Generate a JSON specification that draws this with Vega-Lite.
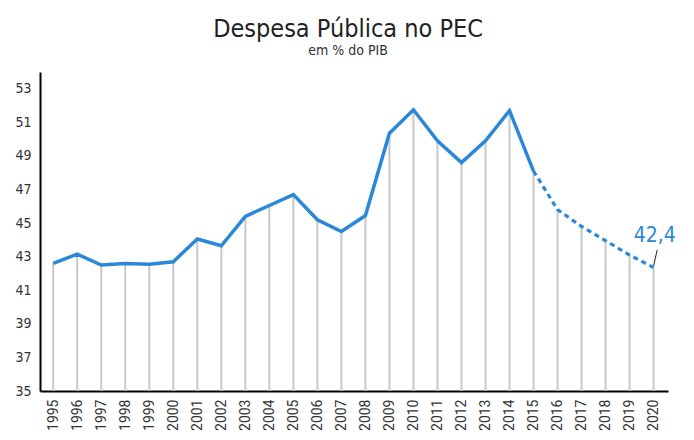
{
  "$schema": "https://vega.github.io/schema/vega-lite/v6.json",
  "width": 628,
  "height": 319,
  "autosize": {"type": "none"},
  "padding": {"left": 40, "top": 72, "right": 26, "bottom": 49},
  "background": "white",
  "title": {
    "text": "Despesa Pública no PEC",
    "subtitle": "em % do PIB",
    "anchor": "middle",
    "dx": -6,
    "offset": 14,
    "font": "DejaVu Sans Condensed, Roboto",
    "fontSize": 25,
    "fontWeight": "normal",
    "color": "#222222",
    "subtitleFont": "DejaVu Sans Condensed, Roboto",
    "subtitleFontSize": 14,
    "subtitleColor": "#333333",
    "subtitlePadding": 2
  },
  "config": {"view": {"stroke": null}, "axis": {"labelOverlap": false}},
  "datasets": {
    "main": [
      {"ano": 1995, "valor": 42.6, "tipo": "real"},
      {"ano": 1996, "valor": 43.15, "tipo": "real"},
      {"ano": 1997, "valor": 42.5, "tipo": "real"},
      {"ano": 1998, "valor": 42.6, "tipo": "real"},
      {"ano": 1999, "valor": 42.55, "tipo": "real"},
      {"ano": 2000, "valor": 42.7, "tipo": "real"},
      {"ano": 2001, "valor": 44.05, "tipo": "real"},
      {"ano": 2002, "valor": 43.65, "tipo": "real"},
      {"ano": 2003, "valor": 45.4, "tipo": "real"},
      {"ano": 2004, "valor": 46.05, "tipo": "real"},
      {"ano": 2005, "valor": 46.7, "tipo": "real"},
      {"ano": 2006, "valor": 45.2, "tipo": "real"},
      {"ano": 2007, "valor": 44.5, "tipo": "real"},
      {"ano": 2008, "valor": 45.45, "tipo": "real"},
      {"ano": 2009, "valor": 50.35, "tipo": "real"},
      {"ano": 2010, "valor": 51.75, "tipo": "real"},
      {"ano": 2011, "valor": 49.9, "tipo": "real"},
      {"ano": 2012, "valor": 48.6, "tipo": "real"},
      {"ano": 2013, "valor": 49.9, "tipo": "real"},
      {"ano": 2014, "valor": 51.7, "tipo": "real"},
      {"ano": 2015, "valor": 48.1, "tipo": "real"},
      {"ano": 2015, "valor": 48.1, "tipo": "prev"},
      {"ano": 2016, "valor": 45.8, "tipo": "prev"},
      {"ano": 2017, "valor": 44.8, "tipo": "prev"},
      {"ano": 2018, "valor": 43.95, "tipo": "prev"},
      {"ano": 2019, "valor": 43.1, "tipo": "prev"},
      {"ano": 2020, "valor": 42.35, "tipo": "prev"}
    ],
    "leader": [
      {"x": 2020.0, "y": 42.45, "x2": 2020.15, "y2": 43.4}
    ],
    "label": [
      {"x": 2020.05, "y": 43.85, "texto": "42,4"}
    ]
  },
  "layer": [
    {
      "data": {"name": "main"},
      "transform": [{"filter": "!(datum.tipo == 'prev' && datum.ano == 2015)"}],
      "mark": {"type": "rule", "color": "#c8c8c8", "strokeWidth": 2},
      "encoding": {
        "x": {
          "field": "ano", "type": "quantitative",
          "scale": {"domain": [1994.45, 2020.6], "nice": false, "zero": false},
          "axis": {
            "values": [1995,1996,1997,1998,1999,2000,2001,2002,2003,2004,2005,2006,2007,2008,2009,2010,2011,2012,2013,2014,2015,2016,2017,2018,2019,2020],
            "tickCount": 40,
            "format": "d",
            "labelAngle": 270,
            "labelAlign": "right",
            "labelBaseline": "middle",
            "labelFont": "Roboto",
            "labelFontSize": 14,
            "labelColor": "#333333",
            "labelPadding": 8,
            "ticks": false,
            "grid": false,
            "domainColor": "#000000",
            "domainWidth": 2,
            "title": null,
            "labelFlush": false,
            "labelOverlap": false
          }
        },
        "y": {
          "field": "valor", "type": "quantitative",
          "scale": {"domain": [35, 54], "nice": false, "zero": false},
          "axis": {
            "values": [35,37,39,41,43,45,47,49,51,53],
            "tickCount": 20,
            "labelFont": "DejaVu Sans Condensed, Roboto",
            "labelFontSize": 14,
            "labelColor": "#333333",
            "labelPadding": 9,
            "ticks": false,
            "grid": false,
            "domainColor": "#000000",
            "domainWidth": 2,
            "title": null,
            "labelOverlap": false
          }
        },
        "y2": {"datum": 35}
      }
    },
    {
      "data": {"name": "main"},
      "transform": [{"filter": "datum.tipo == 'real'"}],
      "mark": {"type": "line", "color": "#2b88d8", "strokeWidth": 3.5, "strokeJoin": "miter"},
      "encoding": {
        "x": {"field": "ano", "type": "quantitative"},
        "y": {"field": "valor", "type": "quantitative"}
      }
    },
    {
      "data": {"name": "main"},
      "transform": [{"filter": "datum.tipo == 'prev'"}],
      "mark": {"type": "line", "color": "#2b88d8", "strokeWidth": 3.2, "strokeDash": [5, 4]},
      "encoding": {
        "x": {"field": "ano", "type": "quantitative"},
        "y": {"field": "valor", "type": "quantitative"}
      }
    },
    {
      "data": {"name": "leader"},
      "mark": {"type": "rule", "color": "#222222", "strokeWidth": 1},
      "encoding": {
        "x": {"field": "x", "type": "quantitative"},
        "y": {"field": "y", "type": "quantitative"},
        "x2": {"field": "x2"},
        "y2": {"field": "y2"}
      }
    },
    {
      "data": {"name": "label"},
      "mark": {"type": "text", "color": "#2b88d8", "font": "DejaVu Sans Condensed, Roboto", "fontSize": 21, "align": "center", "baseline": "alphabetic"},
      "encoding": {
        "x": {"field": "x", "type": "quantitative"},
        "y": {"field": "y", "type": "quantitative"},
        "text": {"field": "texto"}
      }
    }
  ]
}
